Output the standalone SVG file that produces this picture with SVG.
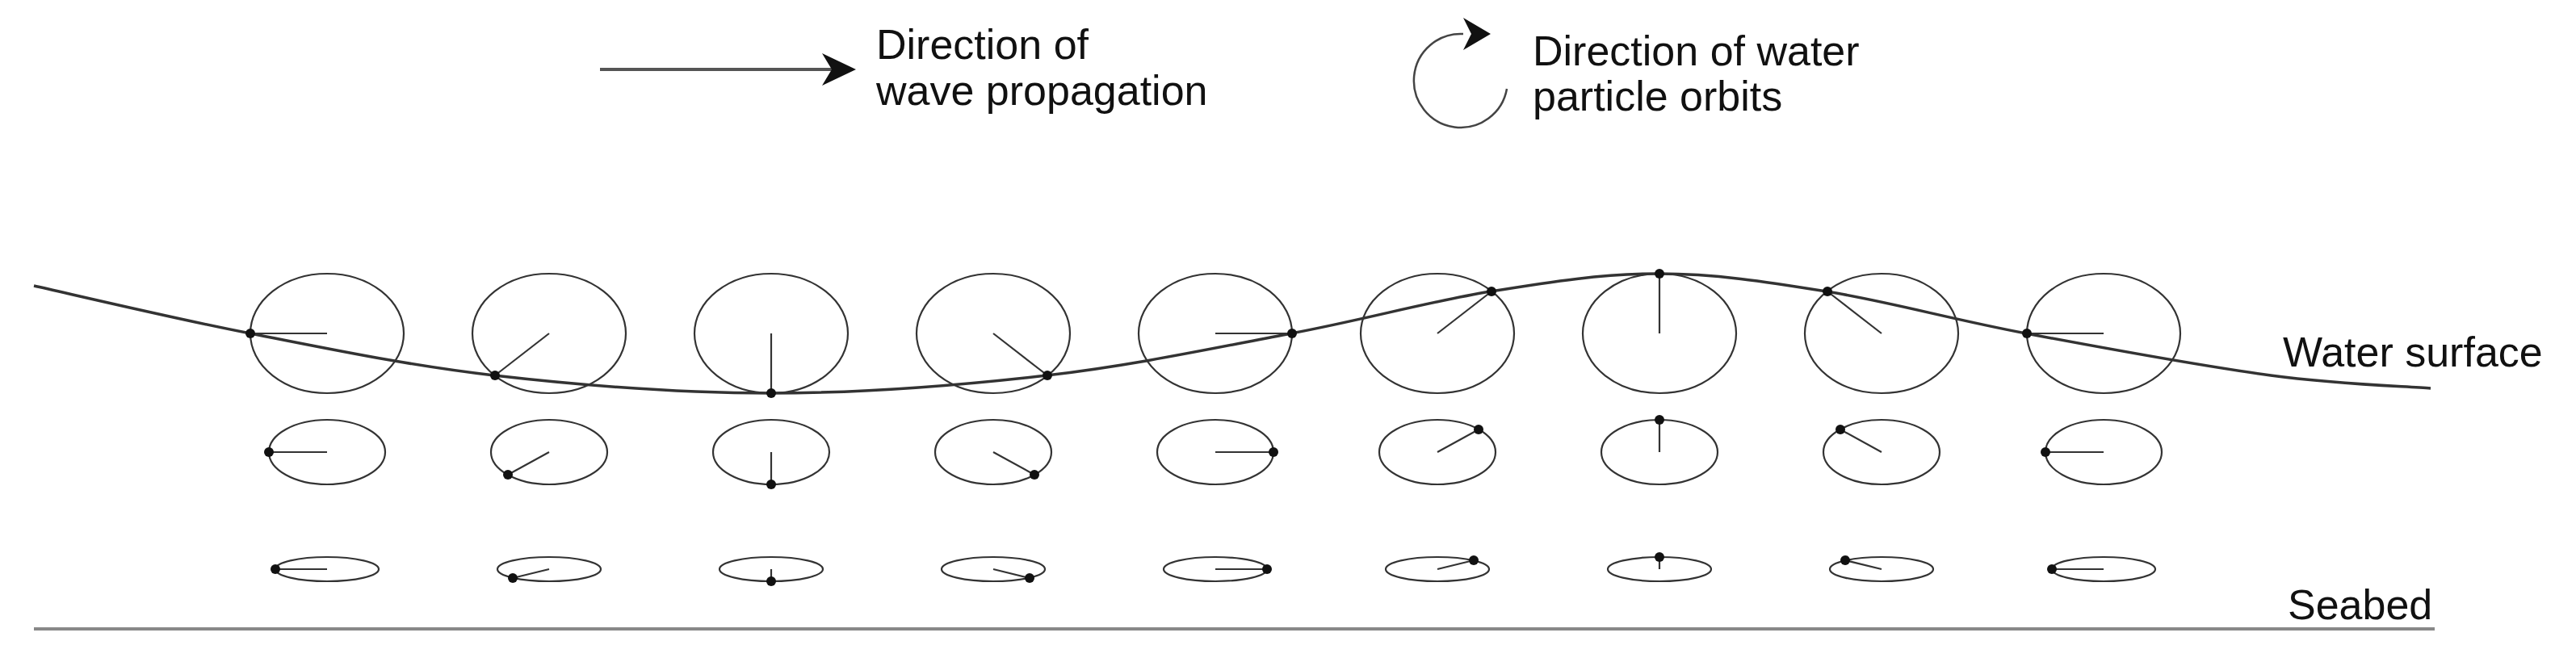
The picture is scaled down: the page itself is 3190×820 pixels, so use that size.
<svg xmlns="http://www.w3.org/2000/svg" width="3190" height="820" viewBox="0 0 3190 820">
<style>
.o{fill:none;stroke:#333;stroke-width:2.2}
.s{stroke:#333;stroke-width:2.2}
.d{fill:#111}
.t{font-family:"Liberation Sans",Arial,sans-serif;font-size:52px;fill:#111}
</style>
<defs>
<marker id="ah" markerWidth="12" markerHeight="12" refX="10" refY="6" orient="auto" markerUnits="userSpaceOnUse" viewBox="0 0 12 12">
<path d="M0,0 L12,6 L0,12 L4,6 Z" fill="#111"/>
</marker>
</defs>
<rect width="3190" height="820" fill="#fff"/>
<g id="legend-propagation">
<line x1="743" y1="86" x2="1056" y2="86" stroke="#555" stroke-width="4"/>
<path d="M1018,66 L1060,86 L1018,106 L1030,86 Z" fill="#111"/>
<text class="t" x="1085" y="73">Direction of</text>
<text class="t" x="1085" y="130">wave propagation</text>
</g>
<g id="legend-orbit">
<path d="M1866,110 A58,58 0 1 1 1812,42" fill="none" stroke="#444" stroke-width="2.5"/>
<path d="M1812,22 L1846,42 L1812,62 L1822,42 Z" fill="#111"/>
<text class="t" x="1898" y="81">Direction of water</text>
<text class="t" x="1898" y="137">particle orbits</text>
</g>
<g id="connectors">
<path d="M42,354 C87,364 215,394.5 310,413 C405,431.5 504.7,452.7 612,465 C719.3,477.3 840,487 954,487 C1068,487 1188.5,477.3 1296,465 C1403.5,452.7 1507.3,430.3 1599,413 C1690.7,395.7 1770.2,373.3 1846,361 C1921.8,348.7 1984.7,339 2054,339 C2123.3,339 2186.2,348.7 2262,361 C2337.8,373.3 2417.3,395.7 2509,413 C2600.7,430.3 2728.5,453.7 2812,465 C2895.5,476.3 2977,478.3 3010,481" fill="none" stroke="#333" stroke-width="3.5"/>
<line x1="42" y1="779" x2="3015" y2="779" stroke="#888" stroke-width="4"/>
</g>
<g id="col0">
<ellipse class="o" cx="405" cy="413" rx="95" ry="74"/><line class="s" x1="405" y1="413" x2="310" y2="413"/><circle class="d" cx="310" cy="413" r="6"/>
<ellipse class="o" cx="405" cy="560" rx="72" ry="40"/><line class="s" x1="405" y1="560" x2="333" y2="560"/><circle class="d" cx="333" cy="560" r="6"/>
<ellipse class="o" cx="405" cy="705" rx="64" ry="15"/><line class="s" x1="405" y1="705" x2="341" y2="705"/><circle class="d" cx="341" cy="705" r="6"/>
</g>
<g id="col1">
<ellipse class="o" cx="680" cy="413" rx="95" ry="74"/><line class="s" x1="680" y1="413" x2="613" y2="465"/><circle class="d" cx="613" cy="465" r="6"/>
<ellipse class="o" cx="680" cy="560" rx="72" ry="40"/><line class="s" x1="680" y1="560" x2="629" y2="588"/><circle class="d" cx="629" cy="588" r="6"/>
<ellipse class="o" cx="680" cy="705" rx="64" ry="15"/><line class="s" x1="680" y1="705" x2="635" y2="716"/><circle class="d" cx="635" cy="716" r="6"/>
</g>
<g id="col2">
<ellipse class="o" cx="955" cy="413" rx="95" ry="74"/><line class="s" x1="955" y1="413" x2="955" y2="487"/><circle class="d" cx="955" cy="487" r="6"/>
<ellipse class="o" cx="955" cy="560" rx="72" ry="40"/><line class="s" x1="955" y1="560" x2="955" y2="600"/><circle class="d" cx="955" cy="600" r="6"/>
<ellipse class="o" cx="955" cy="705" rx="64" ry="15"/><line class="s" x1="955" y1="705" x2="955" y2="720"/><circle class="d" cx="955" cy="720" r="6"/>
</g>
<g id="col3">
<ellipse class="o" cx="1230" cy="413" rx="95" ry="74"/><line class="s" x1="1230" y1="413" x2="1297" y2="465"/><circle class="d" cx="1297" cy="465" r="6"/>
<ellipse class="o" cx="1230" cy="560" rx="72" ry="40"/><line class="s" x1="1230" y1="560" x2="1281" y2="588"/><circle class="d" cx="1281" cy="588" r="6"/>
<ellipse class="o" cx="1230" cy="705" rx="64" ry="15"/><line class="s" x1="1230" y1="705" x2="1275" y2="716"/><circle class="d" cx="1275" cy="716" r="6"/>
</g>
<g id="col4">
<ellipse class="o" cx="1505" cy="413" rx="95" ry="74"/><line class="s" x1="1505" y1="413" x2="1600" y2="413"/><circle class="d" cx="1600" cy="413" r="6"/>
<ellipse class="o" cx="1505" cy="560" rx="72" ry="40"/><line class="s" x1="1505" y1="560" x2="1577" y2="560"/><circle class="d" cx="1577" cy="560" r="6"/>
<ellipse class="o" cx="1505" cy="705" rx="64" ry="15"/><line class="s" x1="1505" y1="705" x2="1569" y2="705"/><circle class="d" cx="1569" cy="705" r="6"/>
</g>
<g id="col5">
<ellipse class="o" cx="1780" cy="413" rx="95" ry="74"/><line class="s" x1="1780" y1="413" x2="1847" y2="361"/><circle class="d" cx="1847" cy="361" r="6"/>
<ellipse class="o" cx="1780" cy="560" rx="72" ry="40"/><line class="s" x1="1780" y1="560" x2="1831" y2="532"/><circle class="d" cx="1831" cy="532" r="6"/>
<ellipse class="o" cx="1780" cy="705" rx="64" ry="15"/><line class="s" x1="1780" y1="705" x2="1825" y2="694"/><circle class="d" cx="1825" cy="694" r="6"/>
</g>
<g id="col6">
<ellipse class="o" cx="2055" cy="413" rx="95" ry="74"/><line class="s" x1="2055" y1="413" x2="2055" y2="339"/><circle class="d" cx="2055" cy="339" r="6"/>
<ellipse class="o" cx="2055" cy="560" rx="72" ry="40"/><line class="s" x1="2055" y1="560" x2="2055" y2="520"/><circle class="d" cx="2055" cy="520" r="6"/>
<ellipse class="o" cx="2055" cy="705" rx="64" ry="15"/><line class="s" x1="2055" y1="705" x2="2055" y2="690"/><circle class="d" cx="2055" cy="690" r="6"/>
</g>
<g id="col7">
<ellipse class="o" cx="2330" cy="413" rx="95" ry="74"/><line class="s" x1="2330" y1="413" x2="2263" y2="361"/><circle class="d" cx="2263" cy="361" r="6"/>
<ellipse class="o" cx="2330" cy="560" rx="72" ry="40"/><line class="s" x1="2330" y1="560" x2="2279" y2="532"/><circle class="d" cx="2279" cy="532" r="6"/>
<ellipse class="o" cx="2330" cy="705" rx="64" ry="15"/><line class="s" x1="2330" y1="705" x2="2285" y2="694"/><circle class="d" cx="2285" cy="694" r="6"/>
</g>
<g id="col8">
<ellipse class="o" cx="2605" cy="413" rx="95" ry="74"/><line class="s" x1="2605" y1="413" x2="2510" y2="413"/><circle class="d" cx="2510" cy="413" r="6"/>
<ellipse class="o" cx="2605" cy="560" rx="72" ry="40"/><line class="s" x1="2605" y1="560" x2="2533" y2="560"/><circle class="d" cx="2533" cy="560" r="6"/>
<ellipse class="o" cx="2605" cy="705" rx="64" ry="15"/><line class="s" x1="2605" y1="705" x2="2541" y2="705"/><circle class="d" cx="2541" cy="705" r="6"/>
</g>
<g id="labels">
<text class="t" x="2827" y="454">Water surface</text>
<text class="t" x="2833" y="767">Seabed</text>
</g>
</svg>
